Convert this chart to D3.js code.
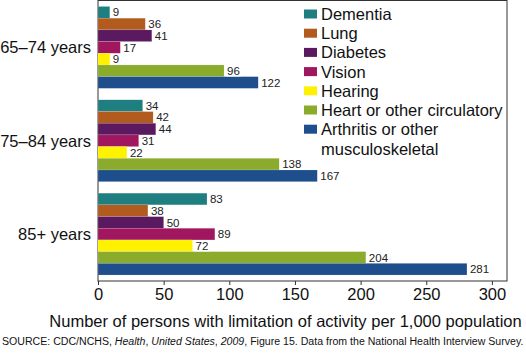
<!DOCTYPE html>
<html><head><meta charset="utf-8">
<script src="https://cdn.jsdelivr.net/npm/d3@7"></script>
<style>
html,body{margin:0;padding:0;background:#fff;}
svg{display:block;font-family:"Liberation Sans",Arial,Helvetica,sans-serif;}
</style></head>
<body>
<svg id="chart" width="526" height="353"></svg>
<script>
const ageGroups = ["65–74 years", "75–84 years", "85+ years"];
const seriesNames = ["Dementia", "Lung", "Diabetes", "Vision", "Hearing", "Heart or other circulatory", "Arthritis or other musculoskeletal"];
const dementia  = [9, 34, 83];
const lung      = [36, 42, 38];
const diabetes  = [41, 44, 50];
const vision    = [17, 31, 89];
const hearing   = [9, 22, 72];
const heart     = [96, 138, 204];
const arthritis = [122, 167, 281];
const xTicks = [0, 50, 100, 150, 200, 250, 300];
const colors = ["#1e7e80", "#b15b1f", "#5b1a5f", "#a0165f", "#fff200", "#8aab2b", "#1f4e8d"];
const legendLines = [["Dementia"], ["Lung"], ["Diabetes"], ["Vision"], ["Hearing"], ["Heart or other circulatory"], ["Arthritis or other", "musculoskeletal"]];

const seriesValues = [dementia, lung, diabetes, vision, hearing, heart, arthritis];

const svg = d3.select("#chart");
const L = 98, R = 507, T = 0.5, B = 281;

const x = d3.scaleLinear().domain([0, 311.5]).range([L, R]);
const y0 = d3.scaleBand().domain(ageGroups).range([T, B]).paddingInner(0.123).paddingOuter(0.064);
const y1 = d3.scaleBand().domain(seriesNames).range([0, y0.bandwidth()]);

// frame
svg.append("rect").attr("x", L).attr("y", T).attr("width", R - L).attr("height", B - T)
  .attr("fill", "none").attr("stroke", "#333").attr("stroke-width", 1);

// bars
const groups = svg.append("g").selectAll("g").data(ageGroups).join("g")
  .attr("transform", d => `translate(0,${y0(d)})`);

seriesNames.forEach((s, si) => {
  groups.append("rect")
    .attr("x", x(0))
    .attr("y", y1(s))
    .attr("width", (d, gi) => x(seriesValues[si][gi]) - x(0))
    .attr("height", y1.bandwidth())
    .attr("fill", colors[si])
    .attr("stroke", "rgba(255,255,255,0.35)").attr("stroke-width", 0.4);
});

// value labels
seriesNames.forEach((s, si) => {
  groups.each(function(d, gi) {
    const v = seriesValues[si][gi];
    const g = d3.select(this);
    const tx = x(v) + 2;
    const ty = y1(s) + y1.bandwidth() / 2;
    const t = g.append("text").attr("x", tx + 1).attr("y", ty).attr("dy", "0.36em")
      .attr("font-size", 11.5).attr("fill", "#222").text(v);
    const w = t.node().getComputedTextLength();
    g.insert("rect", () => t.node()).attr("x", tx).attr("y", ty - 5).attr("width", w + 2).attr("height", 10.5)
      .attr("fill", "#fff");
  });
});

// y labels
svg.append("g").selectAll("text").data(ageGroups).join("text")
  .attr("x", L - 7).attr("y", d => y0(d) + y0.bandwidth() / 2).attr("dy", "0.36em")
  .attr("text-anchor", "end").attr("font-size", 16.5).attr("fill", "#111").text(d => d);

// x axis
const xAxis = d3.axisBottom(x).tickValues(xTicks).tickSize(4).tickPadding(3);
const ax = svg.append("g").attr("transform", `translate(0,${B})`).call(xAxis);
ax.select(".domain").remove();
ax.selectAll("line").attr("stroke", "#333");
ax.selectAll("text").attr("font-size", 16.5).attr("fill", "#111").attr("font-family", "Liberation Sans, Arial, sans-serif");

svg.append("text").attr("x", 285.5).attr("y", 327).attr("text-anchor", "middle")
  .attr("font-size", 16.5).attr("fill", "#111")
  .text("Number of persons with limitation of activity per 1,000 population");

// legend
const lg = svg.append("g");
let row = 0;
legendLines.forEach((lines, i) => {
  const cy = 14 + row * 19.2;
  lg.append("rect").attr("x", 304).attr("y", cy - 4.5).attr("width", 13).attr("height", 9).attr("fill", colors[i]);
  lines.forEach((ln, j) => {
    lg.append("text").attr("x", 321).attr("y", cy + j * 19.6).attr("dy", "0.36em")
      .attr("font-size", 16.5).attr("fill", "#111").text(ln);
  });
  row += lines.length;
});

// source
const src = svg.append("text").attr("x", 2).attr("y", 345).attr("font-size", 10).attr("fill", "#111");
const parts = [["SOURCE: CDC/NCHS, ", false], ["Health", true], [", ", false], ["United States", true], [", ", false], ["2009", true], [", Figure 15. Data from the National Health Interview Survey.", false]];
parts.forEach(p => src.append("tspan").attr("font-style", p[1] ? "italic" : "normal").text(p[0]));
const sw = src.node().getComputedTextLength();
src.attr("font-size", 10 * 522 / sw);
</script>
</body></html>
